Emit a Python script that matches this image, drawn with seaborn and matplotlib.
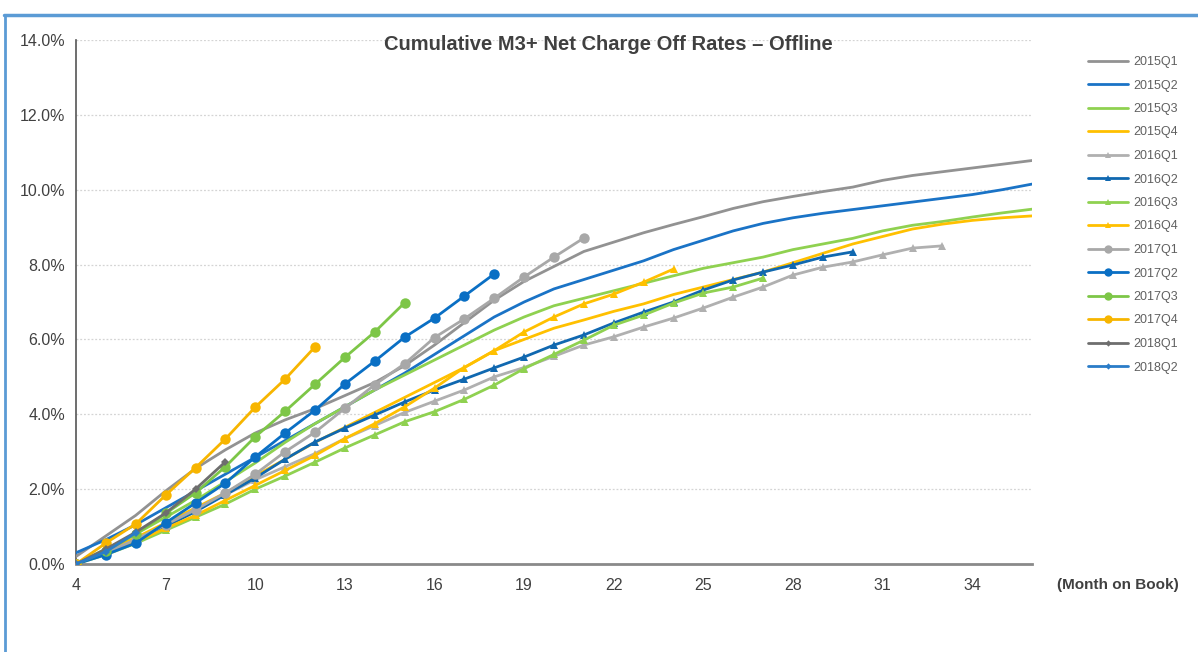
import numpy as np
import pandas as pd
import matplotlib
matplotlib.use("Agg")
import matplotlib.pyplot as plt
import seaborn as sns
from matplotlib.ticker import FuncFormatter, MultipleLocator, FixedLocator
from matplotlib.lines import Line2D

# cumulative M3+ net charge off rate (%) by month on book, starting at month 4
start_month = 4

nco_2015q1 = [0.2, 0.75, 1.3, 1.95, 2.55, 3.05, 3.5, 3.85, 4.15, 4.5, 4.85, 5.3, 5.85, 6.45, 7.05,
              7.55, 7.95, 8.35, 8.6, 8.85, 9.07, 9.28, 9.5, 9.68, 9.82, 9.95, 10.07, 10.25, 10.38,
              10.48, 10.58, 10.68, 10.78]
nco_2015q2 = [0.3, 0.65, 1.05, 1.5, 1.95, 2.4, 2.85, 3.3, 3.75, 4.2, 4.65, 5.1, 5.6, 6.1, 6.6,
              7.0, 7.35, 7.6, 7.85, 8.1, 8.4, 8.65, 8.9, 9.1, 9.25, 9.37, 9.47, 9.57, 9.67,
              9.77, 9.87, 10.0, 10.15]
nco_2015q3 = [0.0, 0.4, 0.8, 1.25, 1.7, 2.2, 2.7, 3.25, 3.75, 4.2, 4.65, 5.05, 5.45, 5.85, 6.25,
              6.6, 6.9, 7.1, 7.3, 7.5, 7.7, 7.9, 8.05, 8.2, 8.4, 8.55, 8.7, 8.9, 9.05,
              9.15, 9.27, 9.38, 9.48]
nco_2015q4 = [0.0, 0.35, 0.7, 1.1, 1.5, 1.9, 2.35, 2.8, 3.25, 3.65, 4.05, 4.45, 4.85, 5.25, 5.7,
              6.0, 6.3, 6.52, 6.75, 6.95, 7.2, 7.4, 7.6, 7.8, 8.05, 8.3, 8.55, 8.75, 8.95,
              9.08, 9.18, 9.25, 9.3]
nco_2016q1 = [0.0, 0.3, 0.65, 1.05, 1.45, 1.85, 2.25, 2.6, 2.95, 3.35, 3.7, 4.05, 4.35, 4.65, 5.0,
              5.25, 5.55, 5.85, 6.07, 6.33, 6.57, 6.84, 7.13, 7.4, 7.72, 7.93, 8.07, 8.26, 8.44, 8.5]
nco_2016q2 = [0.0, 0.3, 0.6, 1.0, 1.4, 1.85, 2.3, 2.8, 3.26, 3.63, 3.98, 4.33, 4.65, 4.94, 5.24,
              5.53, 5.85, 6.12, 6.44, 6.73, 7.0, 7.32, 7.59, 7.8, 7.99, 8.2, 8.34]
nco_2016q3 = [0.0, 0.25, 0.55, 0.9, 1.25, 1.6, 2.0, 2.35, 2.72, 3.1, 3.45, 3.8, 4.07, 4.4, 4.78,
              5.22, 5.6, 5.98, 6.38, 6.65, 6.97, 7.24, 7.4, 7.64]
nco_2016q4 = [0.0, 0.3, 0.6, 0.95, 1.3, 1.7, 2.1, 2.5, 2.9, 3.35, 3.75, 4.2, 4.7, 5.25, 5.7,
              6.2, 6.6, 6.95, 7.21, 7.53, 7.88]
nco_2017q1 = [0.0, 0.3, 0.65, 1.05, 1.45, 1.9, 2.4, 3.0, 3.52, 4.16, 4.79, 5.35, 6.05, 6.55, 7.1,
              7.67, 8.2, 8.71]
nco_2017q2 = [0.0, 0.25, 0.56, 1.1, 1.63, 2.16, 2.86, 3.5, 4.11, 4.81, 5.42, 6.06, 6.57, 7.16, 7.75]
nco_2017q3 = [0.0, 0.35, 0.8, 1.35, 1.9, 2.6, 3.4, 4.08, 4.8, 5.52, 6.2, 6.98]
nco_2017q4 = [0.0, 0.56, 1.07, 1.84, 2.57, 3.34, 4.19, 4.94, 5.8]
nco_2018q1 = [0.0, 0.4, 0.85, 1.36, 2.0, 2.73]
nco_2018q2 = [0.0, 0.33, 0.83]

vintages = ['2015Q1', '2015Q2', '2015Q3', '2015Q4', '2016Q1', '2016Q2', '2016Q3',
            '2016Q4', '2017Q1', '2017Q2', '2017Q3', '2017Q4', '2018Q1', '2018Q2']
series = [nco_2015q1, nco_2015q2, nco_2015q3, nco_2015q4, nco_2016q1, nco_2016q2, nco_2016q3,
          nco_2016q4, nco_2017q1, nco_2017q2, nco_2017q3, nco_2017q4, nco_2018q1, nco_2018q2]

x_ticks = list(range(4, 35, 3))
y_ticks = list(range(0, 15, 2))

# styling per vintage
gray, blue, green, yellow, dark = '#929292', '#1a73c6', '#8fd150', '#ffc000', '#6e6e6e'
colors = [gray, blue, green, yellow, '#b0b0b0', '#1068b0', green, yellow,
          '#a8a8a8', '#0a6fc4', '#7dc647', '#f7b500', dark, '#2a7cc8']
markers = [None, None, None, None, '^', '^', '^', '^', 'o', 'o', 'o', 'o', 'D', 'D']
msizes = [0, 0, 0, 0, 6, 6, 6, 6, 7.5, 7.5, 7.5, 7.5, 4, 4]

frames = []
for name, vals in zip(vintages, series):
    frames.append(pd.DataFrame({'vintage': name,
                                'month': np.arange(start_month, start_month + len(vals)),
                                'rate': vals}))
df = pd.concat(frames, ignore_index=True)

sns.set_style("white")
plt.rcParams['font.family'] = ['Liberation Sans', 'DejaVu Sans']

W, H = 1198, 652
fig = plt.figure(figsize=(W / 100, H / 100), dpi=100)
ax = fig.add_axes([76 / W, 1 - 564 / H, (1032 - 76) / W, (564 - 40) / H])

handles = []
for name, c, m, ms in zip(vintages, colors, markers, msizes):
    sub = df[df['vintage'] == name]
    sns.lineplot(data=sub, x='month', y='rate', ax=ax, color=c, marker=m,
                 markersize=ms, markeredgewidth=0, linewidth=2, legend=False, zorder=3)
    handles.append(Line2D([], [], color=c, marker=m, markersize=ms * 0.8,
                          markeredgewidth=0, linewidth=2, label=name))

ax.set_xlim(4, 36)
ax.set_ylim(0, 14)
ax.xaxis.set_major_locator(FixedLocator(x_ticks))
ax.xaxis.set_minor_locator(MultipleLocator(1))
ax.yaxis.set_major_locator(FixedLocator(y_ticks))
ax.yaxis.set_major_formatter(FuncFormatter(lambda v, p: f'{v:.1f}%'))
ax.set_xlabel('')
ax.set_ylabel('')

ax.grid(axis='y', linestyle=(0, (1.5, 1.5)), color='#d4d4d4', linewidth=0.9)
ax.grid(axis='x', visible=False)
for s in ['top', 'right']:
    ax.spines[s].set_visible(False)
ax.spines['left'].set_color('#555555')
ax.spines['left'].set_linewidth(1.2)
ax.spines['bottom'].set_color('#8a8a8a')
ax.spines['bottom'].set_linewidth(2)

ax.tick_params(axis='both', which='both', direction='out', colors='#555555',
               labelcolor='#404040', labelsize=11.5)
ax.tick_params(axis='x', which='both', length=5, width=1, pad=5)
ax.tick_params(axis='y', which='major', length=4, width=1, pad=4)

fig.text(608 / W, 1 - 44 / H, 'Cumulative M3+ Net Charge Off Rates \u2013 Offline',
         ha='center', va='center', fontsize=14.5, fontweight='bold', color='#404040')
fig.text(1118 / W, 1 - 585 / H, '(Month on Book)', ha='center', va='center',
         fontsize=11, fontweight='bold', color='#404040')

fig.legend(handles=handles, loc='upper left', bbox_to_anchor=(1088 / W, 1 - 56 / H),
           frameon=False, borderpad=0, borderaxespad=0, fontsize=9,
           labelspacing=0.92, handlelength=3.2, handletextpad=0.4, labelcolor='#606060')

# thin blue frame of the slide
frame_col = '#5b9bd5'
fig.add_artist(Line2D([4 / W, 1], [1 - 15 / H, 1 - 15 / H], transform=fig.transFigure,
                      color=frame_col, linewidth=2.5))
fig.add_artist(Line2D([5 / W, 5 / W], [0, 1 - 15 / H], transform=fig.transFigure,
                      color=frame_col, linewidth=2))

fig.savefig('out.png', dpi=100, facecolor='white')
